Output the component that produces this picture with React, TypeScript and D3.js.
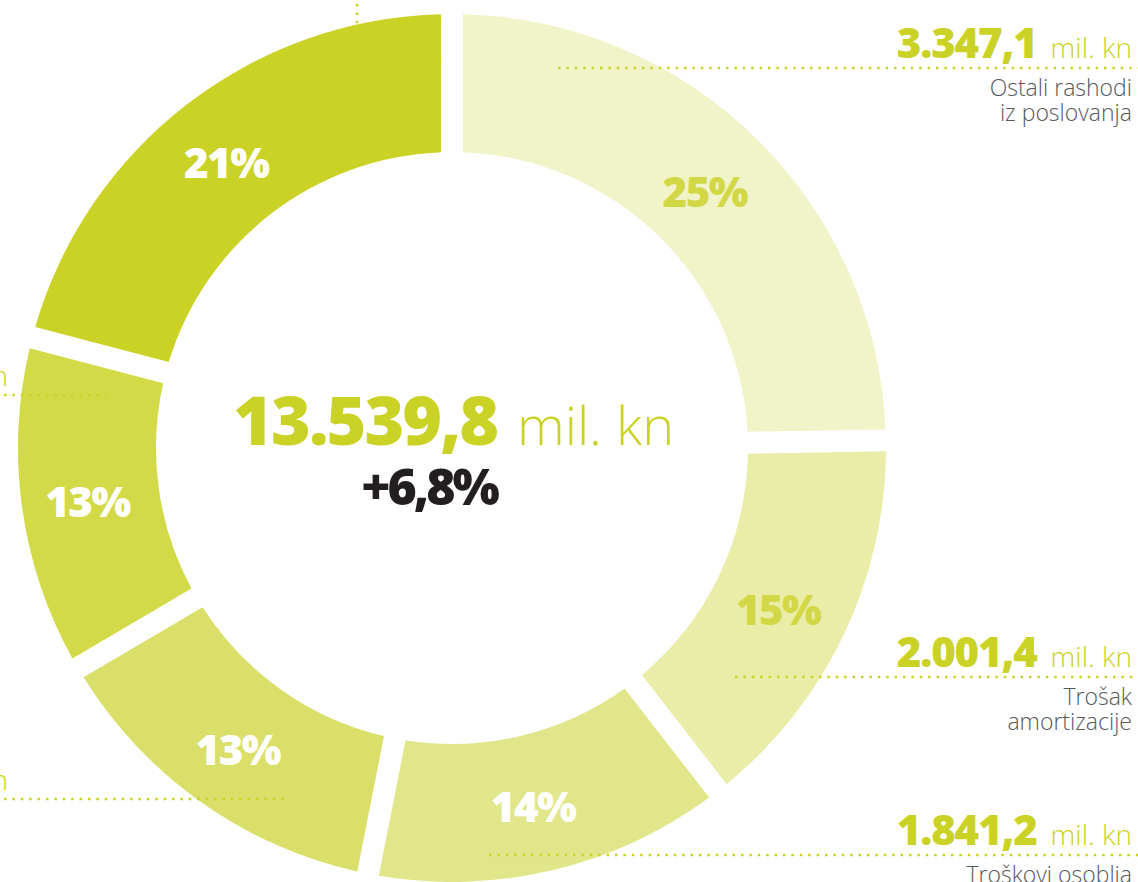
import React from "react";
import * as d3 from "d3";

// ---- data ----
const categories = [
  "Ostali rashodi iz poslovanja",
  "Trošak amortizacije",
  "Troškovi osoblja",
  "Ostalo 1",
  "Ostalo 2",
  "Ostalo 3",
];
const values = [3347.1, 2001.4, 1841.2, 1820.0, 1700.0, 2830.1];
const totalLabel = "13.539,8";
const changeLabel = "+6,8%";
const unitLabel = "mil. kn";
const sliceColors = ["#F1F3C9", "#EAEDA8", "#E2E68A", "#DADF69", "#D3DA47", "#CAD225"];
const pctColors = ["#D2D845", "#D2D845", "#FFFFFF", "#FFFFFF", "#FFFFFF", "#FFFFFF"];

// right-hand label names (multi-line)
const rightNames = [["Ostali rashodi", "iz poslovanja"], ["Trošak", "amortizacije"], ["Troškovi osoblja"]];

// ---- layout ----
const W = 1138, H = 882;
const cx = 452, cy = 448;
const R = 434, r0 = 296;
const GREEN = "#CAD225";
const BOLD = "'Open Sans', sans-serif";
const LIGHT = "'Open Sans', sans-serif";

const fmt = (v: number) => {
  const s = v.toFixed(1).split(".");
  const int = s[0].replace(/\B(?=(\d{3})+(?!\d))/g, ".");
  return int + "," + s[1];
};

// right labels layout: value baseline y, line start x
const rightLayout = [
  { y: 58, lx: 558 },
  { y: 667, lx: 735 },
  { y: 845, lx: 489 },
];
// left labels (cut off): baseline y, line end x
const leftLayout = [
  { idx: 4, y: 386, lx: 106 },
  { idx: 3, y: 790, lx: 284 },
];

export default function App() {
  const total = d3.sum(values);
  const pie = d3.pie<number>().sort(null).value((d) => d);
  const arcs = pie(values);
  const arc = d3
    .arc<d3.PieArcDatum<number>>()
    .innerRadius(r0)
    .outerRadius(R)
    .padRadius(100)
    .padAngle(0.22);
  const labelArc = d3
    .arc<d3.PieArcDatum<number>>()
    .innerRadius(r0)
    .outerRadius(R);

  return (
    <svg
      width={W}
      height={H}
      style={{ position: "absolute", left: 0, top: 0, background: "#fff" }}
    >
      <g transform={`translate(${cx},${cy})`}>
        {arcs.map((a, i) => (
          <path key={i} d={arc(a) || ""} fill={sliceColors[i]} />
        ))}
        {arcs.map((a, i) => {
          const [x, y] = labelArc.centroid(a);
          return (
            <text
              key={"p" + i}
              x={x - 3}
              y={y + 4}
              dy="0.36em"
              textAnchor="middle"
              fontFamily={BOLD}
              fontWeight={800}
              fontSize={42}
              letterSpacing={-1.5}
              fill={pctColors[i]}
            >
              {Math.round((values[i] / total) * 100) + "%"}
            </text>
          );
        })}
        {/* center */}
        <text
          x={45}
          y={-3}
          textAnchor="end"
          fontFamily={BOLD}
          fontWeight={800}
          fontSize={68}
          letterSpacing={-2}
          fill={GREEN}
        >
          {totalLabel}
        </text>
        <text x={65} y={-3} fontFamily={LIGHT} fontWeight={300} fontSize={54} fill={GREEN}>
          {unitLabel}
        </text>
        <text
          x={45}
          y={57}
          textAnchor="end"
          fontFamily={BOLD}
          fontWeight={800}
          fontSize={50}
          letterSpacing={-3}
          fill="#231F20"
        >
          {changeLabel}
        </text>
      </g>

      {/* right labels */}
      {rightLayout.map((l, i) => (
        <g key={"r" + i}>
          <line
            x1={l.lx}
            x2={W}
            y1={l.y + 10}
            y2={l.y + 10}
            stroke={GREEN}
            strokeWidth={2.5}
            strokeDasharray="2.5 5.9"
          />
          <text x={1132} y={l.y} textAnchor="end">
            <tspan fontFamily={BOLD} fontWeight={800} fontSize={42} letterSpacing={-1.2} fill={GREEN}>
              {fmt(values[i])}
            </tspan>
            <tspan dx={14} fontFamily={LIGHT} fontWeight={300} fontSize={28} fill={GREEN}>
              {unitLabel}
            </tspan>
          </text>
          {rightNames[i].map((n, j) => (
            <text
              key={j}
              x={1132}
              y={l.y + 38 + j * 25}
              textAnchor="end"
              fontFamily={LIGHT}
              fontWeight={300}
              fontSize={23}
              fill="#58595B"
            >
              {n}
            </text>
          ))}
        </g>
      ))}

      {/* left labels (cut off) */}
      {leftLayout.map((l, i) => (
        <g key={"l" + i}>
          <line
            x1={4}
            x2={l.lx}
            y1={l.y + 9}
            y2={l.y + 9}
            stroke={GREEN}
            strokeWidth={2.5}
            strokeDasharray="2.5 5.9"
          />
          <text x={8} y={l.y} textAnchor="end">
            <tspan fontFamily={BOLD} fontWeight={800} fontSize={42} fill={GREEN}>
              {fmt(values[l.idx])}
            </tspan>
            <tspan dx={14} fontFamily={LIGHT} fontWeight={300} fontSize={28} fill={GREEN}>
              {unitLabel}
            </tspan>
          </text>
        </g>
      ))}
      {/* top label connector (label is off-canvas) */}
      <line
        x1={357}
        x2={357}
        y1={4}
        y2={26}
        stroke={GREEN}
        strokeWidth={2.5}
        strokeDasharray="2.5 5.9"
      />
    </svg>
  );
}
